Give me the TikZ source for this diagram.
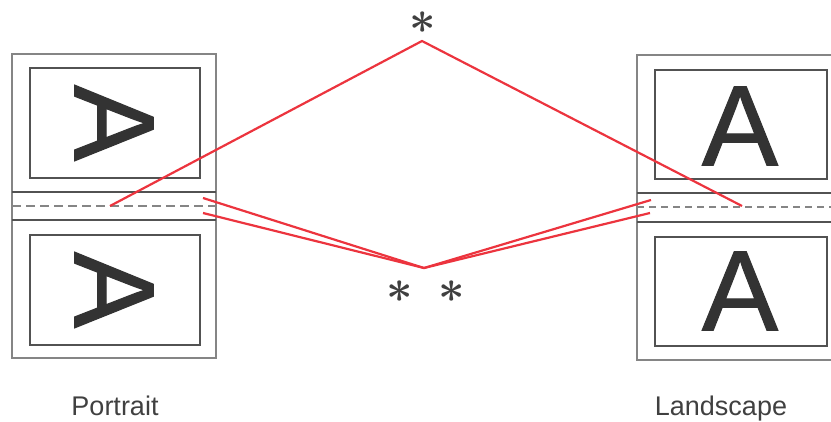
\documentclass[tikz,border=0pt]{standalone}
\usepackage{fontspec}
\setmainfont{Liberation Sans}
\newfontfamily\glyphfont[FakeBold=1]{Liberation Sans}
\usetikzlibrary{positioning}
\definecolor{linkred}{RGB}{236,52,62}
\tikzset{
  sheet/.style={draw=black!48, line width=2pt},
  panel/.style={draw=black!68, line width=1.5pt},
  fold/.style={draw=black!48, line width=2pt, dash pattern=on 9pt off 5pt},
  glyph/.style={inner sep=0pt, text=black!80, font=\glyphfont\fontsize{114}{114}\selectfont},
  asterisk/.style={inner sep=0pt, text=black!75, font=\normalsize\boldmath, scale=4.6},
  caption/.style={anchor=base, text=black!75, font=\fontsize{27}{30}\selectfont},
  link/.style={draw=linkred, line width=2.2pt, line join=miter}
}
\begin{document}
\begin{tikzpicture}[x=1pt,y=-1pt]
    \useasboundingbox (0,0) rectangle (831,422);
    % portrait sheet
    \draw[sheet] (12,54) rectangle (216,358);
    \draw[panel] (12,192) -- (216,192) (12,220) -- (216,220);
    \draw[fold] (12,206) -- (216,206);
    \foreach \y/\ya/\n in {68/123/1,235/290/2}{
        \draw[panel] (30,\y) rectangle (200,\y+110);
        \node[glyph, rotate=-90] (portA\n) at (114,\ya) {A};
    }
    % landscape sheet
    \draw[sheet] (637,55) rectangle (845,360);
    \draw[panel] (637,193) -- (845,193) (637,222) -- (845,222);
    \draw[fold, line width=1.6pt, dash pattern=on 7pt off 5pt] (637,207) -- (845,207);
    \foreach \y/\ya/\n in {70/126/1,237/291/2}{
        \draw[panel] (655,\y) rectangle (827,\y+109);
        \node[glyph] (landA\n) at (740,\ya) {A};
    }
    % markers
    \node[asterisk] (topstar) at (423,23) {$\ast$};
    \node[asterisk] (lowstarL) at (400,292) {$\ast$};
    \node[asterisk] (lowstarR) at (452,292) {$\ast$};
    \coordinate (hinge) at (422,41);
    \coordinate (valley) at (424,268);
    \coordinate (portfold) at (110,206);
    \coordinate (landfold) at (742,206);
    \coordinate (portedgeA) at (203,198);
    \coordinate (portedgeB) at (203,213);
    \coordinate (landedgeA) at (651,200);
    \coordinate (landedgeB) at (650,213);
    \draw[link] (portfold) -- (hinge) -- (landfold);
    \draw[link] (portedgeA) -- (valley) -- (landedgeA);
    \draw[link] (portedgeB) -- (valley) -- (landedgeB);
    % captions
    \node[caption] (portcap) at (115,416) {Portrait};
    \node[caption] (landcap) at (721,416) {Landscape};
\end{tikzpicture}
\end{document}
